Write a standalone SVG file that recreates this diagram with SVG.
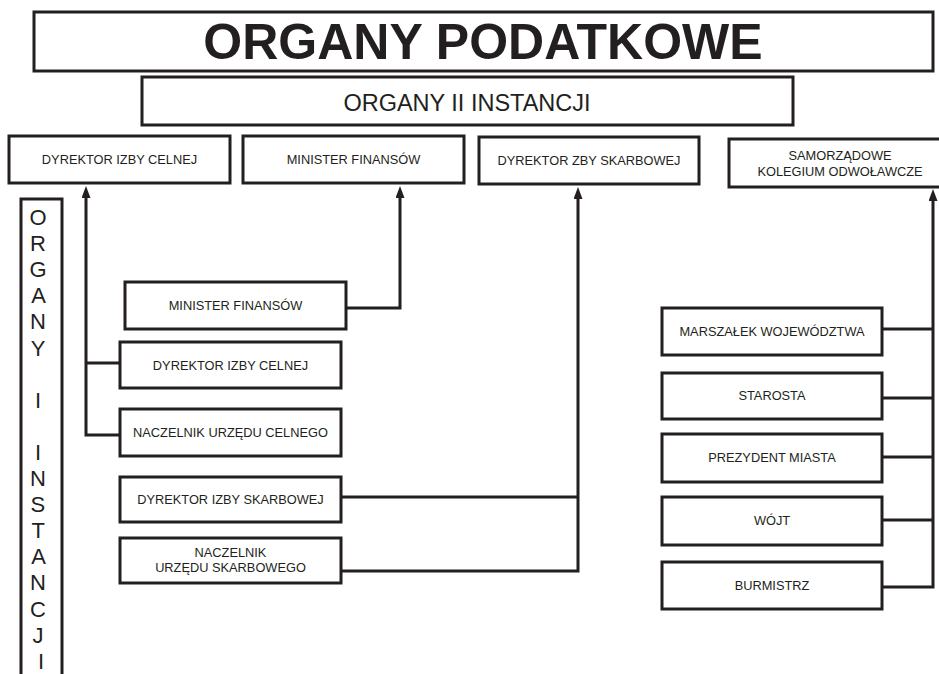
<svg xmlns="http://www.w3.org/2000/svg" width="939" height="674" viewBox="0 0 939 674">
<defs>
<style>
.box{fill:#fff;stroke:#231f20;stroke-width:3}
.t{font-family:"Liberation Sans",Arial,sans-serif;font-size:12.8px;fill:#231f20;text-anchor:middle}
.title{font-family:"Liberation Sans",Arial,sans-serif;font-size:50px;font-weight:bold;fill:#231f20;text-anchor:middle}
.sub{font-family:"Liberation Sans",Arial,sans-serif;font-size:23.5px;fill:#231f20;text-anchor:middle}
.vert{font-family:"Liberation Sans",Arial,sans-serif;font-size:22px;fill:#231f20;text-anchor:middle}
.c{fill:none;stroke:#231f20;stroke-width:3}
</style>
<marker id="arr" viewBox="0 0 12 9" refX="6" refY="4.5" markerWidth="12" markerHeight="9" markerUnits="userSpaceOnUse" orient="auto">
<path d="M0,0 L12,4.5 L0,9 z" fill="#231f20"/>
</marker>
</defs>
<rect width="939" height="674" fill="#fff"/>

<g id="title">
<rect class="box" x="34" y="12" width="899" height="59"/>
<text class="title" x="483" y="59">ORGANY PODATKOWE</text>
</g>
<g id="organy-ii">
<rect class="box" x="142" y="77" width="651" height="48"/>
<text class="sub" x="467" y="111">ORGANY II INSTANCJI</text>
</g>
<g id="organy-i">
<rect class="box" x="21" y="199" width="41" height="500"/>
<text class="vert">
<tspan x="41" y="225">O</tspan>
<tspan x="41" y="251.1">R</tspan>
<tspan x="41" y="277.2">G</tspan>
<tspan x="41" y="303.3">A</tspan>
<tspan x="41" y="329.4">N</tspan>
<tspan x="41" y="355.5">Y</tspan>
<tspan x="41" y="407.7">I</tspan>
<tspan x="41" y="459.9">I</tspan>
<tspan x="41" y="486">N</tspan>
<tspan x="41" y="512.1">S</tspan>
<tspan x="41" y="538.2">T</tspan>
<tspan x="41" y="564.3">A</tspan>
<tspan x="41" y="590.4">N</tspan>
<tspan x="41" y="616.5">C</tspan>
<tspan x="41" y="642.6">J</tspan>
<tspan x="41" y="668.7">I</tspan>
</text>
</g>

<g id="top-dic">
<rect class="box" x="9" y="136" width="221" height="47"/>
<text class="t" x="119.5" y="164">DYREKTOR IZBY CELNEJ</text>
</g>
<g id="top-mf">
<rect class="box" x="243" y="136" width="221" height="47"/>
<text class="t" x="353.5" y="164">MINISTER FINANSÓW</text>
</g>
<g id="top-dis">
<rect class="box" x="479" y="137" width="220" height="47"/>
<text class="t" x="589" y="165">DYREKTOR ZBY SKARBOWEJ</text>
</g>
<g id="top-sko">
<rect class="box" x="729" y="139" width="222" height="48"/>
<text class="t" x="840" y="160">SAMORZĄDOWE</text>
<text class="t" x="840" y="176">KOLEGIUM ODWOŁAWCZE</text>
</g>

<g id="mf">
<rect class="box" x="125" y="282" width="221" height="47"/>
<text class="t" x="235.5" y="310">MINISTER FINANSÓW</text>
</g>
<g id="dic">
<rect class="box" x="120" y="342" width="221" height="46"/>
<text class="t" x="230.5" y="370">DYREKTOR IZBY CELNEJ</text>
</g>
<g id="nuc">
<rect class="box" x="120" y="409" width="221" height="47"/>
<text class="t" x="230.5" y="437">NACZELNIK URZĘDU CELNEGO</text>
</g>
<g id="dis">
<rect class="box" x="120" y="477" width="221" height="45"/>
<text class="t" x="230.5" y="504">DYREKTOR IZBY SKARBOWEJ</text>
</g>
<g id="nus">
<rect class="box" x="120" y="538" width="221" height="45"/>
<text class="t" x="230.5" y="557">NACZELNIK</text>
<text class="t" x="230.5" y="572">URZĘDU SKARBOWEGO</text>
</g>

<g id="marszalek">
<rect class="box" x="662" y="308" width="220" height="47"/>
<text class="t" x="772" y="336">MARSZAŁEK WOJEWÓDZTWA</text>
</g>
<g id="starosta">
<rect class="box" x="662" y="373" width="220" height="46"/>
<text class="t" x="772" y="400">STAROSTA</text>
</g>
<g id="prezydent">
<rect class="box" x="662" y="434" width="220" height="48"/>
<text class="t" x="772" y="462">PREZYDENT MIASTA</text>
</g>
<g id="wojt">
<rect class="box" x="662" y="497" width="220" height="48"/>
<text class="t" x="772" y="525">WÓJT</text>
</g>
<g id="burmistrz">
<rect class="box" x="662" y="562" width="220" height="47"/>
<text class="t" x="772" y="590">BURMISTRZ</text>
</g>

<g id="connectors">
<path class="c" d="M120,435 H86 V192" marker-end="url(#arr)"/>
<path class="c" d="M120,363 H86"/>
<path class="c" d="M346,308 H400 V192" marker-end="url(#arr)"/>
<path class="c" d="M341,571 H578 V193" marker-end="url(#arr)"/>
<path class="c" d="M341,497 H578"/>
<path class="c" d="M882,587 H933 V195" marker-end="url(#arr)"/>
<path class="c" d="M882,329 H933"/>
<path class="c" d="M882,398 H933"/>
<path class="c" d="M882,457 H933"/>
<path class="c" d="M882,520 H933"/>
</g>
</svg>
